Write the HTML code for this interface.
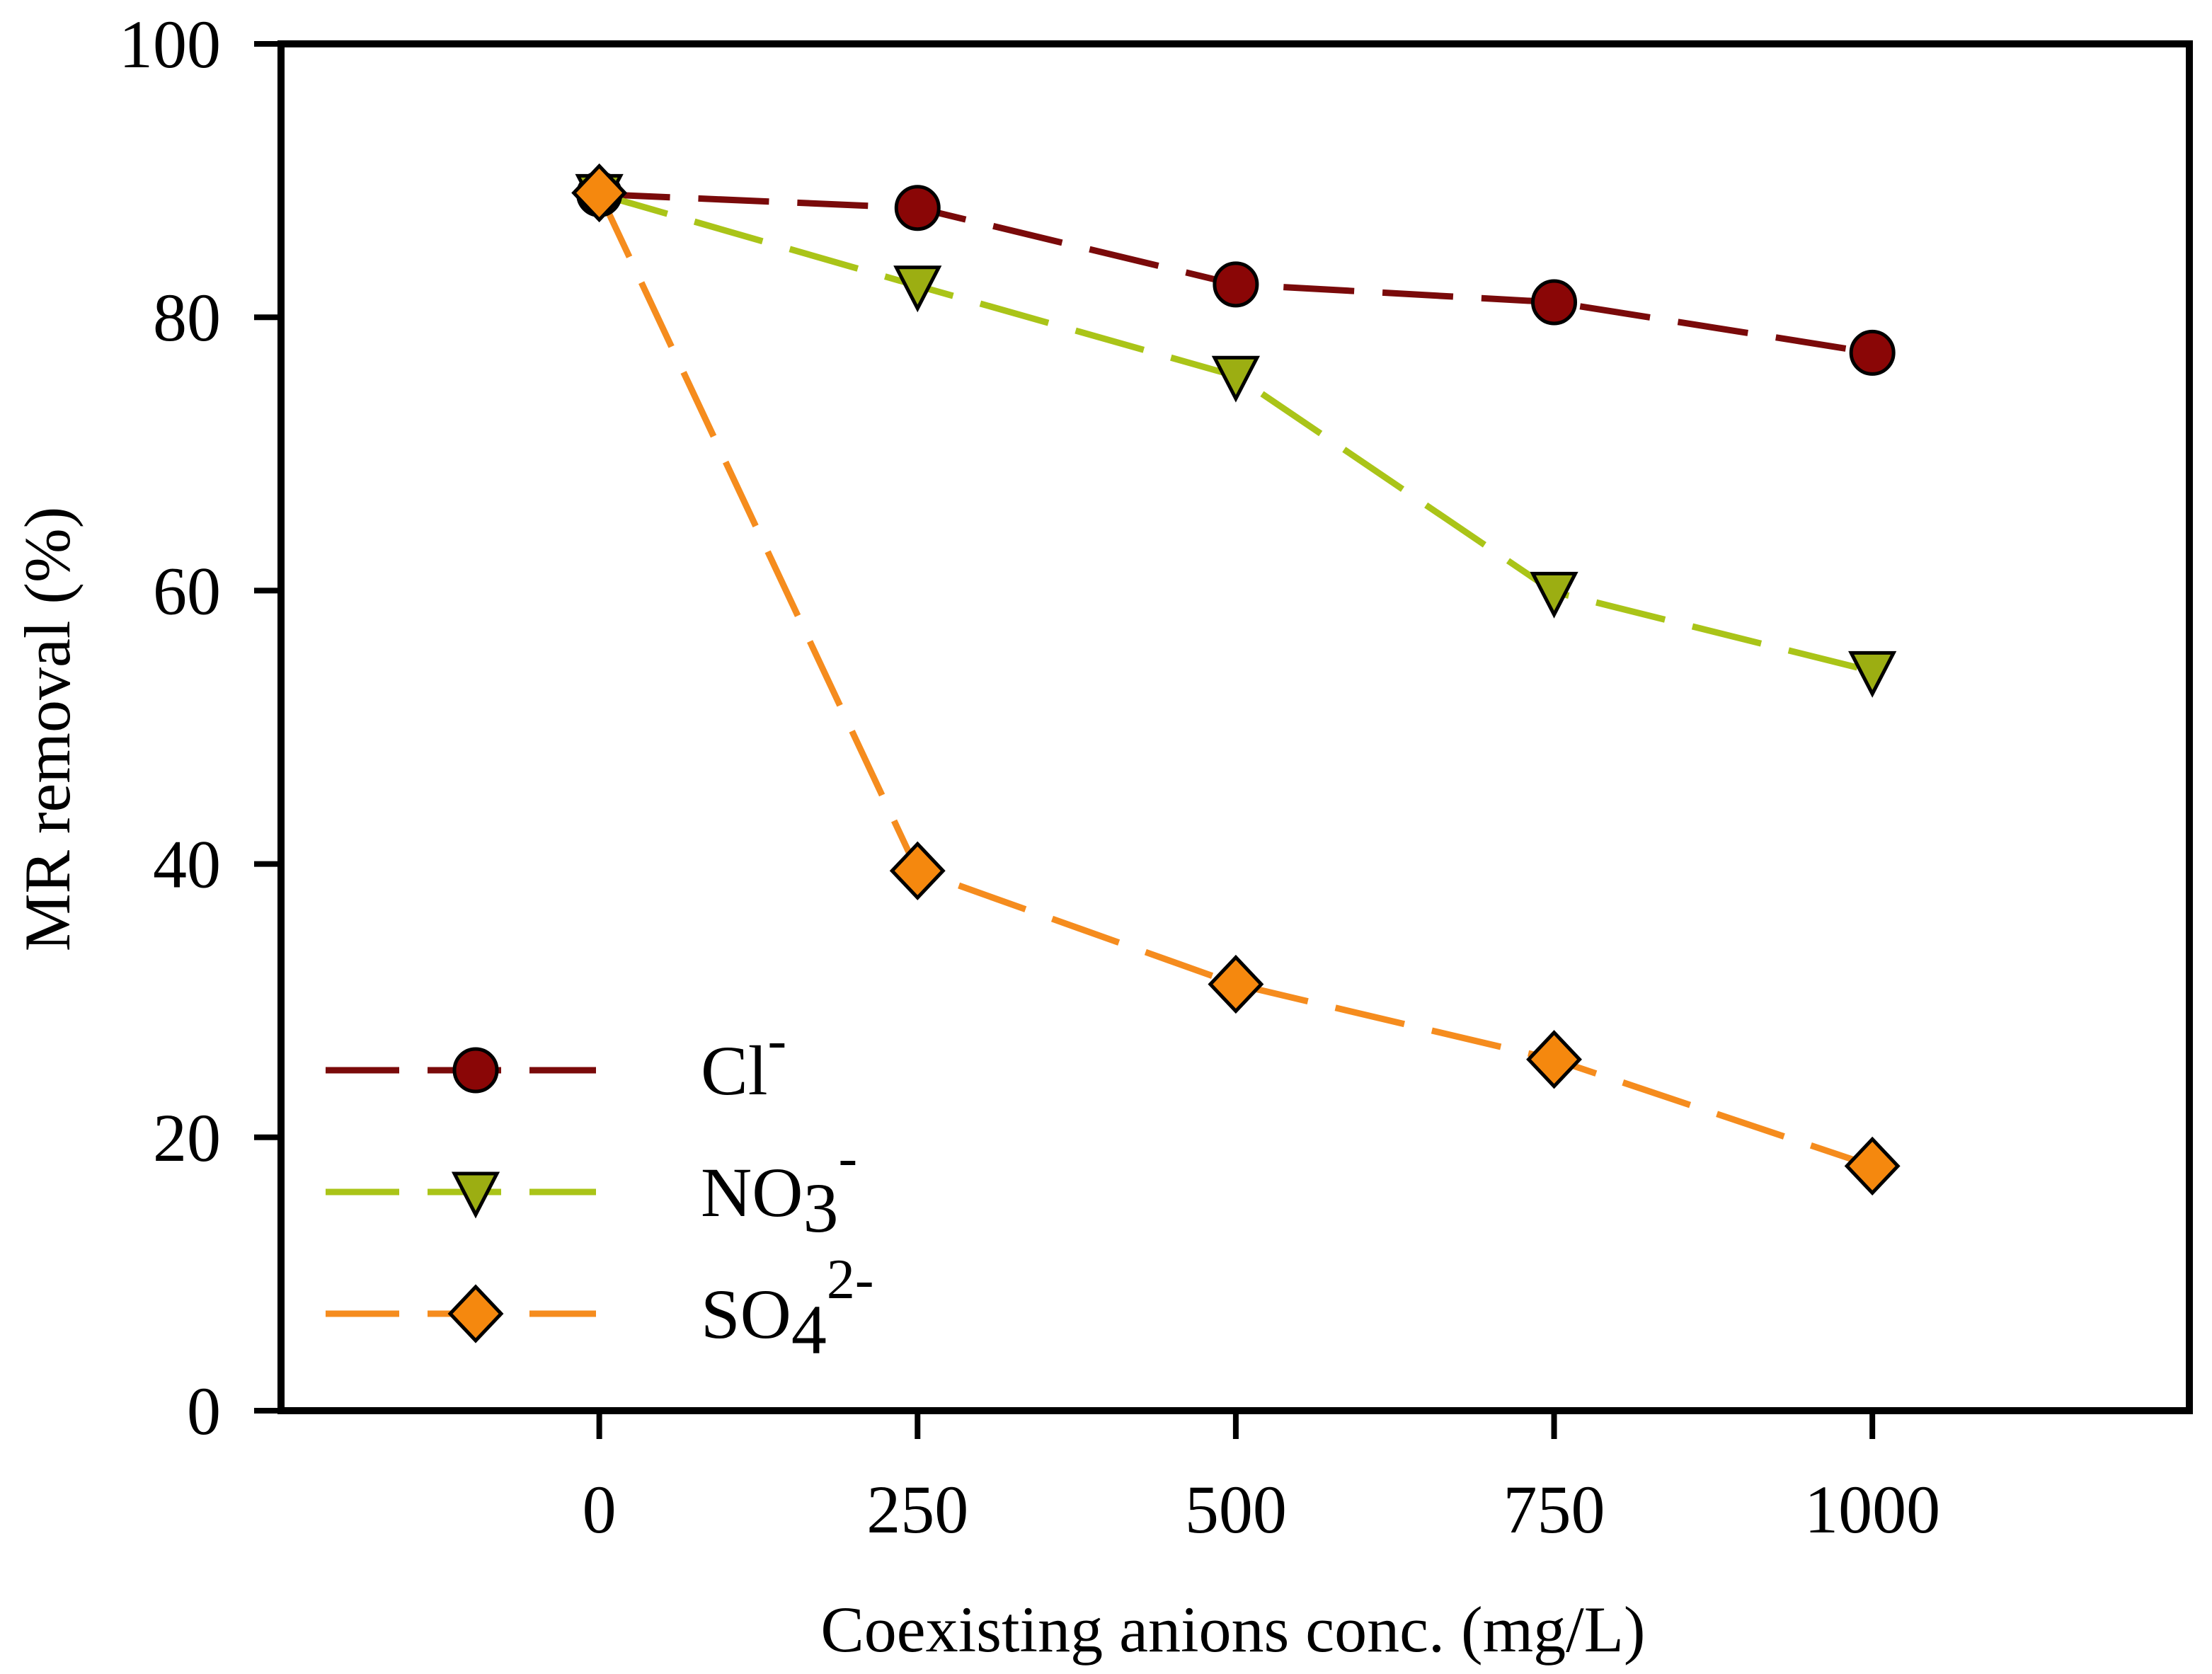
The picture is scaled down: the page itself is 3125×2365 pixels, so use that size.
<!DOCTYPE html>
<html><head><meta charset="utf-8"><style>
html,body{margin:0;padding:0;background:#fff}
svg{display:block}
text{font-family:"Liberation Serif",serif;fill:#000}
</style></head><body>
<svg id="chart" width="3125" height="2365" viewBox="0 0 3125 2365" xmlns="http://www.w3.org/2000/svg">
<g id="axes"></g><g id="series"></g><g id="legend"></g>
</svg>
<script>
const categories = [0, 250, 500, 750, 1000];
const clValues = [89, 88.0, 82.4, 81.1, 77.4];
const no3Values = [89, 82.3, 75.7, 59.9, 54.1];
const so4Values = [89.1, 39.5, 31.2, 25.7, 17.9];
const xTickLabels = ["0", "250", "500", "750", "1000"];
const yTickValues = [0, 20, 40, 60, 80, 100];

const NS = "http://www.w3.org/2000/svg";
const L = 397, R = 3093, T = 62, B = 1993;
const xMin = -250, xMax = 1249, yMin = 0, yMax = 100;
function xs(v){ return L + (v - xMin) / (xMax - xMin) * (R - L); }
function ys(v){ return B - (v - yMin) / (yMax - yMin) * (B - T); }
function mk(tag, attrs, parent){
  const e = document.createElementNS(NS, tag);
  for (const k in attrs) e.setAttribute(k, attrs[k]);
  parent.appendChild(e); return e;
}
const axes = document.getElementById('axes');
const seriesG = document.getElementById('series');
const legendG = document.getElementById('legend');

const frame = mk('rect', {x:L, y:T, width:R-L, height:B-T, fill:'none', stroke:'#000', 'stroke-width':10}, axes);



yTickValues.forEach(v => {
  const t = mk('line', {x1:L-38, x2:L, y1:ys(v), y2:ys(v), stroke:'#000', 'stroke-width':8}, axes);
  
  
  const lb = mk('text', {x:312, y:ys(v)+33, 'text-anchor':'end', 'font-size':96}, axes);
  lb.textContent = String(v);
  
  
});
categories.forEach((c, i) => {
  const t = mk('line', {x1:xs(c), x2:xs(c), y1:B, y2:B+40, stroke:'#000', 'stroke-width':8}, axes);
  
  
  const lb = mk('text', {x:xs(c), y:2165, 'text-anchor':'middle', 'font-size':96}, axes);
  lb.textContent = xTickLabels[i];
  
  
});
const xt = mk('text', {x:1742, y:2333, 'text-anchor':'middle', 'font-size':92}, axes);
xt.textContent = 'Coexisting anions conc. (mg/L)';


const yt = mk('text', {x:0, y:0, 'text-anchor':'middle', 'font-size':92, transform:'translate(98,1030) rotate(-90)'}, axes);
yt.textContent = 'MR removal (%)';



function marker(shape, x, y, fill, parent){
  let e;
  if (shape === 'circle') e = mk('circle', {cx:x, cy:y, r:30, fill:fill, stroke:'#000', 'stroke-width':5}, parent);
  else if (shape === 'tri') e = mk('polygon', {points:`${x-30},${y-26} ${x+30},${y-26} ${x},${y+32}`, fill:fill, stroke:'#000', 'stroke-width':5}, parent);
  else e = mk('polygon', {points:`${x},${y-38} ${x+36},${y} ${x},${y+38} ${x-36},${y}`, fill:fill, stroke:'#000', 'stroke-width':5}, parent);
  return e;
}
const series = [
  {name:'cl', vals:clValues, line:'#7a0a0a', fill:'#8a0606', shape:'circle', label:'Cl', sub:'', sup:'-'},
  {name:'no3', vals:no3Values, line:'#aac418', fill:'#9cae12', shape:'tri', label:'NO', sub:'3', sup:'-'},
  {name:'so4', vals:so4Values, line:'#f58c1e', fill:'#f5880e', shape:'diamond', label:'SO', sub:'4', sup:'2-'}
];
series.forEach(s => {
  const pts = categories.map((c, i) => `${xs(c)},${ys(s.vals[i])}`).join(' ');
  const pl = mk('polyline', {points:pts, fill:'none', stroke:s.line, 'stroke-width':9, 'stroke-dasharray':'100 40'}, seriesG);
  
  
});
series.forEach(s => {
  categories.forEach((c, i) => {
    const m = marker(s.shape, xs(c), ys(s.vals[i]), s.fill, seriesG);
    
    
  });
});
const legendY = [1512, 1684, 1856];
series.forEach((s, i) => {
  const y = legendY[i];
  const ln = mk('line', {x1:460, x2:842, y1:y, y2:y, stroke:s.line, 'stroke-width':9, 'stroke-dasharray':'104 40'}, legendG);
  
  
  const m = marker(s.shape, 672, y, s.fill, legendG);
  
  
  const t = mk('text', {x:990, y:y+34, 'font-size':100}, legendG);
  
  
  const a = document.createElementNS(NS, 'tspan'); a.textContent = s.label; t.appendChild(a);
  if (s.sub) { const b = document.createElementNS(NS, 'tspan'); b.setAttribute('dy', 22); b.textContent = s.sub; t.appendChild(b); }
  const c = document.createElementNS(NS, 'tspan'); c.setAttribute('dy', s.sub ? -78 : -50); c.setAttribute('font-size', 80); c.textContent = s.sup; t.appendChild(c);
});
</script>
</body></html>
